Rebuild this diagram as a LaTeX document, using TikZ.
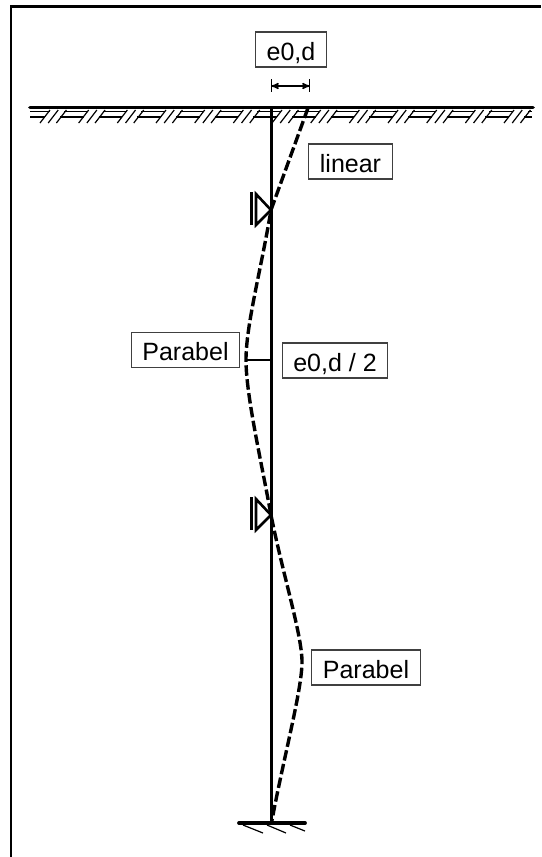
\documentclass[tikz,border=0pt]{standalone}
\usepackage{fontspec}
\setmainfont{Liberation Sans}
\usetikzlibrary{arrows,positioning}
\tikzset{
    %Define standard arrow tip
    >=stealth',
    %Define style for boxes
    labelbox/.style={
           rectangle,
           draw=black!75!white, line width=1.1pt,
           inner xsep=11pt,
           inner ysep=5pt,
           text height=23pt,
           text depth=2pt,
           font=\fontsize{25}{30}\selectfont,
           text centered,
           },
    % Define line styles
    frameline/.style={line width=2.4pt},
    groundline/.style={line width=3.8pt, line cap=round},
    columnline/.style={line width=3.8pt},
    bentline/.style={line width=3.4pt, dash pattern=on 10.5pt off 3.5pt},
    thinline/.style={line width=1.2pt},
    supportline/.style={line width=2.6pt},
    dimline/.style={<->, line width=1.5pt},
}

\begin{document}
\begin{tikzpicture}[x=1pt,y=-1pt]
\useasboundingbox (0,0) rectangle (541,857);

 %frame
\draw[frameline] (11,857) -- (11,6.5) -- (541,6.5);

 %points
\coordinate (groundleft) at (30,107.5);
\coordinate (groundright) at (533,107.5);
\coordinate (columntop) at (271.5,107.5);
\coordinate (columnfoot) at (271.5,823);
\coordinate (baseleft) at (239,823);
\coordinate (baseright) at (305,823);
\coordinate (bendtop) at (308,108);
\coordinate (support1) at (271,210);
\coordinate (peak1) at (246,360);
\coordinate (support2) at (271,515);
\coordinate (peak2) at (302,662);
\coordinate (tick1) at (271.5,360);
\coordinate (dim1) at (271.5,86);
\coordinate (dim2) at (309.5,86);

 %nodes
\node[labelbox, anchor=center] (dimlabel) at (291,49.5) {e0,d};
\node[labelbox, anchor=center] (linearlabel) at (350.5,161.5) {linear};
\node[labelbox, anchor=center] (parabel1) at (185.5,350) {Parabel};
\node[labelbox, anchor=center] (halflabel) at (335,360.5) {e0,d / 2};
\node[labelbox, anchor=center] (parabel2) at (366,667.5) {Parabel};

 %ground
\draw[groundline] (groundleft) -- (groundright);
\draw[thinline] (30,111.5) -- (50,111.5) (30,117) -- (45,117);
\foreach \i in {0,...,12}{
  \pgfmathsetmacro{\xa}{40+38.67*\i}
  \foreach \d in {0,8.2,16.4}
    \draw[thinline] (\xa+\d,123) -- (\xa+\d+10,110);
  \ifnum\i<12
    \draw[thinline] (\xa+24,111.5) -- (\xa+38.67+9,111.5)
                    (\xa+20,117) -- (\xa+38.67+5,117);
  \else
    \draw[thinline] (\xa+24,111.5) -- (532,111.5)
                    (\xa+20,117) -- (532,117);
  \fi
}

 %column and bending line
\draw[columnline] (columntop) -- (columnfoot);
\draw[bentline] (bendtop) -- (support1)
   .. controls (261,270) and (246,325) .. (peak1)
   .. controls (246,395) and (261,460) .. (support2)
   .. controls (283,575) and (302,635) .. (peak2)
   .. controls (302,690) and (283,760) .. (columnfoot);

 %supports
\foreach \s in {support1,support2}{
  \draw[supportline] (\s) -- ++(-15,-16) -- ++(0,31) -- cycle;
  \draw[supportline] (\s) ++(-19.5,-18) -- ++(0,33);
}

 %foot
\draw[groundline] (baseleft) -- (baseright);
\draw[thinline] (243,825) -- (263,833) (267,825) -- (286,833) (290,825) -- (305,831);

 %dimensions
\draw[thinline] (271.5,79) -- (271.5,92) (309.5,79) -- (309.5,92);
\draw[dimline] (dim1) -- (dim2);
\draw[line width=1.6pt] (peak1) -- (tick1);

\end{tikzpicture}
\end{document}
